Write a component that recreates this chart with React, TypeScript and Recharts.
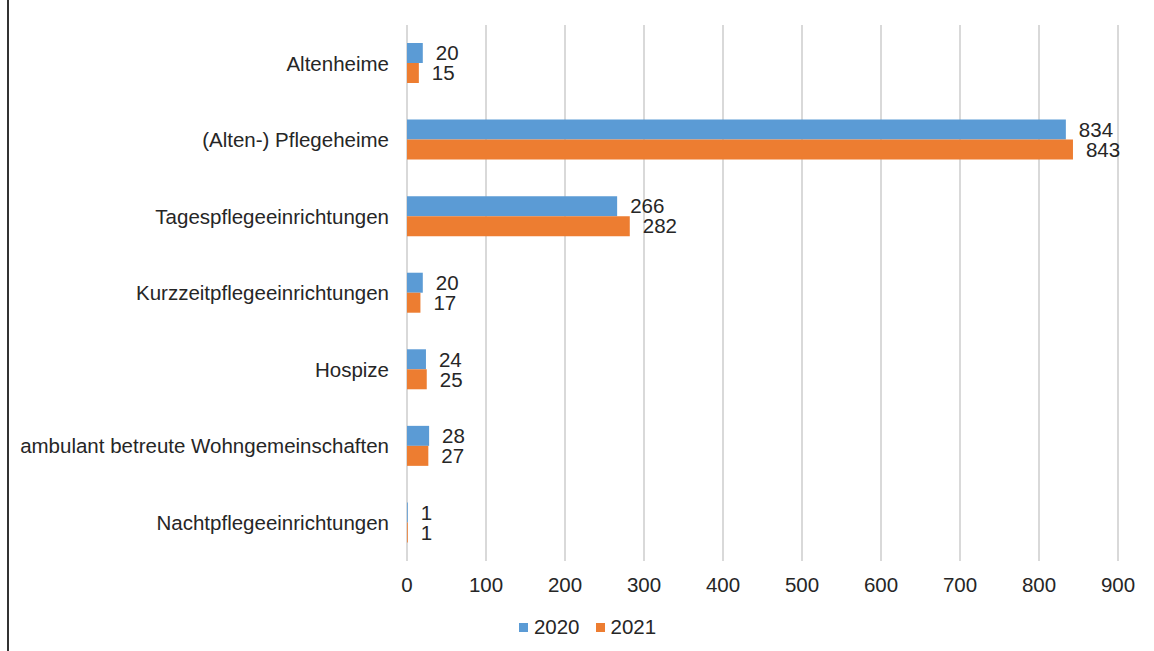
import { BarChart, Bar, XAxis, YAxis, CartesianGrid, Legend, LabelList } from "recharts";

const categories = [
  "Altenheime",
  "(Alten-) Pflegeheime",
  "Tagespflegeeinrichtungen",
  "Kurzzeitpflegeeinrichtungen",
  "Hospize",
  "ambulant betreute Wohngemeinschaften",
  "Nachtpflegeeinrichtungen",
];
const values2020 = [20, 834, 266, 20, 24, 28, 1];
const values2021 = [15, 843, 282, 17, 25, 27, 1];
const xTicks = [0, 100, 200, 300, 400, 500, 600, 700, 800, 900];

const BLUE = "#5b9bd5";
const ORANGE = "#ed7d31";
const TEXT = "#262626";
const FONT = "'Liberation Sans', Arial, sans-serif";
const FS = 20.5;

const data = categories.map((name, i) => ({
  name,
  y2020: values2020[i],
  y2021: values2021[i],
}));

function LegendContent() {
  const items = [
    { label: "2020", color: BLUE },
    { label: "2021", color: ORANGE },
  ];
  return (
    <div
      style={{
        display: "flex",
        justifyContent: "center",
        gap: 16,
        paddingTop: 14,
        paddingLeft: 57,
        fontFamily: FONT,
        fontSize: FS,
        color: TEXT,
      }}
    >
      {items.map((it) => (
        <div key={it.label} style={{ display: "flex", alignItems: "center", gap: 6 }}>
          <span style={{ width: 9, height: 9, background: it.color, display: "inline-block" }} />
          <span>{it.label}</span>
        </div>
      ))}
    </div>
  );
}

export default function App() {
  return (
    <div style={{ position: "absolute", left: 0, top: 0, width: 1154, height: 651, background: "#fff" }}>
      <div style={{ position: "absolute", left: 7, top: 0, width: 2, height: 651, background: "#333" }} />
      <BarChart
        width={1154}
        height={651}
        data={data}
        layout="vertical"
        margin={{ top: 25, right: 36, left: 0, bottom: 0 }}
        barSize={20}
        barGap={0}
      >
        <CartesianGrid horizontal={false} stroke="#d9d9d9" strokeWidth={2} />
        <XAxis
          type="number"
          domain={[0, 900]}
          ticks={xTicks}
          axisLine={false}
          tickLine={false}
          tickSize={0}
          tickMargin={16}
          height={40}
          interval={0}
          tick={{ fontSize: FS, fill: TEXT, fontFamily: FONT }}
        />
        <YAxis
          type="category"
          dataKey="name"
          width={407}
          axisLine={false}
          tickLine={false}
          tickSize={0}
          tickMargin={18}
          interval={0}
          tick={{ fontSize: FS, fill: TEXT, fontFamily: FONT }}
        />
        <Legend verticalAlign="bottom" height={50} content={<LegendContent />} />
        <Bar dataKey="y2020" name="2020" fill={BLUE} isAnimationActive={false}>
          <LabelList dataKey="y2020" position="right" offset={13} style={{ fontSize: FS, fill: TEXT, fontFamily: FONT }} />
        </Bar>
        <Bar dataKey="y2021" name="2021" fill={ORANGE} isAnimationActive={false}>
          <LabelList dataKey="y2021" position="right" offset={13} style={{ fontSize: FS, fill: TEXT, fontFamily: FONT }} />
        </Bar>
      </BarChart>
    </div>
  );
}
